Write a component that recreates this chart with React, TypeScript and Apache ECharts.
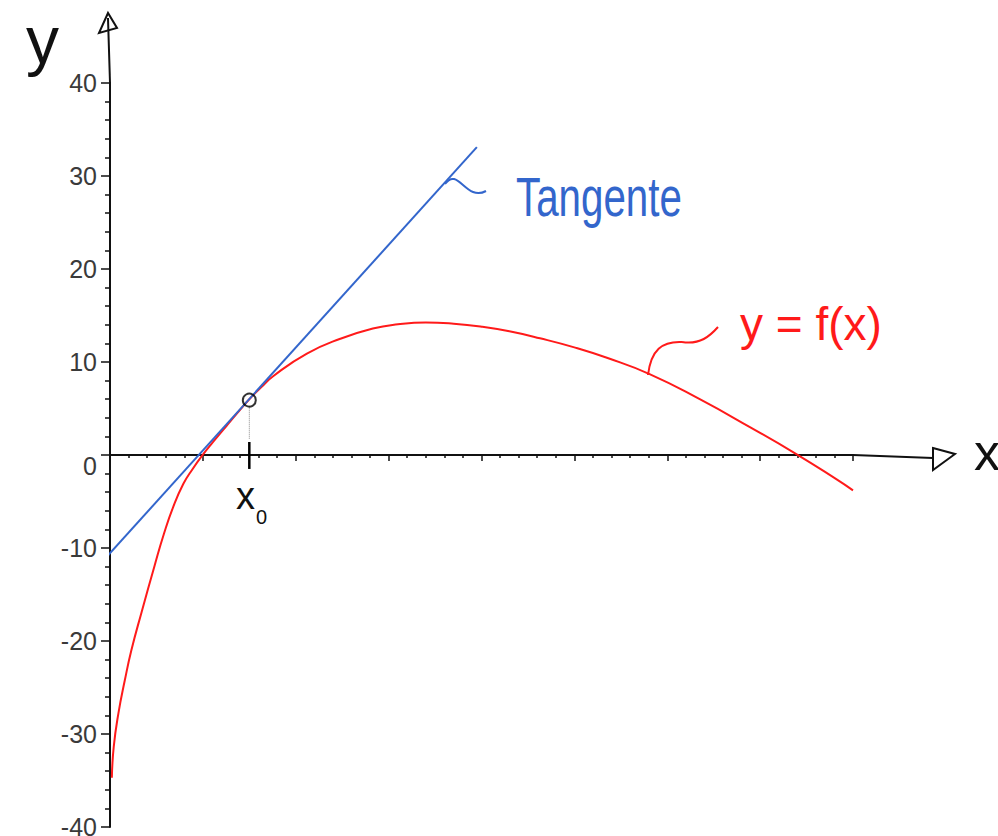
import React, { useEffect, useRef } from "react";
import * as echarts from "echarts";

// Axis ranges and tick step
const xRange = [0, 80];
const yRange = [-40, 40];
const tickStep = 10;

// Red curve y = f(x)
const curveX = [0.2, 0.4, 0.9, 1.6, 2.3, 3.4, 4.8, 5.8, 6.8, 7.9, 8.9, 9.9, 11.1, 12.6, 14.0, 15.0, 16.3, 17.6, 21.2, 24.8, 28.3, 31.0, 34.0, 37.0, 40.0, 43.0, 46.3, 49.9, 53.5, 58.1, 63.5, 68.9, 73.9, 78.2, 80];
const curveY = [-34.7, -31.4, -27.8, -24.2, -21.0, -16.9, -11.9, -8.5, -5.6, -3.1, -1.5, -0.1, 1.4, 3.2, 4.85, 6.0, 7.3, 8.5, 10.9, 12.5, 13.6, 14.05, 14.25, 14.12, 13.8, 13.3, 12.55, 11.6, 10.45, 8.7, 6.0, 3.0, 0.1, -2.6, -3.8];

// Blue tangent line end points
const tangentX = [-10.8, 39.5];
const tangentY = [-22.5, 33.1];

// Tangent point x0
const pointX = [15];
const pointY = [5.9];

const LABEL_FONT = "'Liberation Sans', Arial, sans-serif";
const HAND_FONT = "'Liberation Sans', 'DejaVu Sans', sans-serif";

export default function App() {
  const ref = useRef<HTMLDivElement>(null);

  useEffect(() => {
    document.body.style.margin = "0";
    const chart = echarts.init(ref.current!, undefined, { renderer: "svg" });

    const curveData = curveX.map((x, i) => [x, curveY[i]]);
    const tangentData = tangentX.map((x, i) => [x, tangentY[i]]);
    const pointData = pointX.map((x, i) => [x, pointY[i]]);
    const px = pointX[0];
    const py = pointY[0];

    const option: any = {
      animation: false,
      backgroundColor: "#ffffff",
      grid: {
        left: 110,
        right: 145,
        top: 83,
        bottom: 9,
        containLabel: false,
        outerBoundsMode: "none",
      },
      xAxis: {
        type: "value",
        min: xRange[0],
        max: xRange[1],
        interval: tickStep,
        axisLine: { show: true, onZero: true, lineStyle: { color: "#111", width: 2 } },
        axisTick: { show: true, length: 6, lineStyle: { color: "#111", width: 1.5 } },
        minorTick: { show: true, splitNumber: 5, length: 3, lineStyle: { color: "#111", width: 1.5 } },
        splitLine: { show: false },
        axisLabel: {
          margin: 7,
          fontSize: 25,
          fontFamily: LABEL_FONT,
          color: "#3a3a3a",
          formatter: (v: number) => (v === 0 ? "" : String(v)),
        },
      },
      yAxis: {
        type: "value",
        min: yRange[0],
        max: yRange[1],
        interval: tickStep,
        axisLine: { show: true, onZero: true, lineStyle: { color: "#111", width: 2 } },
        axisTick: { show: true, length: 9, lineStyle: { color: "#111", width: 1.5 } },
        minorTick: { show: true, splitNumber: 5, length: 5, lineStyle: { color: "#111", width: 1.5 } },
        splitLine: { show: false },
        axisLabel: {
          margin: 13,
          fontSize: 25,
          fontFamily: LABEL_FONT,
          color: "#3a3a3a",
          formatter: (v: number) => (v === 0 ? "{z|0}" : String(v)),
          rich: {
            z: { fontSize: 25, fontFamily: LABEL_FONT, color: "#3a3a3a", padding: [22, 0, 0, 0] },
          },
        },
      },
      series: [
        {
          type: "line",
          data: tangentData,
          showSymbol: false,
          clip: false,
          lineStyle: { color: "#3366cc", width: 2 },
          z: 3,
        },
        {
          type: "line",
          data: curveData,
          showSymbol: false,
          smooth: 0.5,
          lineStyle: { color: "#ff1a1a", width: 2 },
          z: 2,
        },
        {
          type: "line",
          data: [[px, py - 0.6], [px, 1.7]],
          showSymbol: false,
          lineStyle: { color: "#888", width: 1, type: "dotted" },
          z: 1,
        },
        {
          type: "line",
          data: [[px, 1.4], [px, -1.5]],
          showSymbol: false,
          lineStyle: { color: "#000", width: 2.5 },
          z: 4,
        },
        {
          type: "scatter",
          data: pointData,
          symbol: "circle",
          symbolSize: 13,
          itemStyle: { color: "rgba(0,0,0,0)", borderColor: "#000", borderWidth: 2 },
          z: 5,
        },
      ],
      graphic: [
        // hand-drawn axis extensions and open arrow heads
        { type: "line", shape: { x1: 110, y1: 83, x2: 108, y2: 18 }, style: { stroke: "#111", lineWidth: 2 } },
        { type: "polygon", shape: { points: [[108, 13], [99, 33], [117, 28]] }, style: { fill: "none", stroke: "#111", lineWidth: 2 } },
        { type: "line", shape: { x1: 853, y1: 455, x2: 933, y2: 458 }, style: { stroke: "#111", lineWidth: 2 } },
        { type: "polygon", shape: { points: [[933, 448], [955, 454], [933, 470]] }, style: { fill: "none", stroke: "#111", lineWidth: 2 } },
        // axis names
        { type: "text", x: 26, y: 40, style: { text: "y", fontSize: 66, fontFamily: HAND_FONT, fill: "#111", align: "left", verticalAlign: "middle" } },
        { type: "text", x: 974, y: 452, style: { text: "x", fontSize: 52, fontFamily: HAND_FONT, fill: "#111", align: "left", verticalAlign: "middle" } },
        // x0
        { type: "text", x: 236, y: 496, style: { text: "x", fontSize: 38, fontFamily: HAND_FONT, fill: "#111", align: "left", verticalAlign: "middle" } },
        { type: "text", x: 256, y: 517, style: { text: "0", fontSize: 20, fontFamily: HAND_FONT, fill: "#111", align: "left", verticalAlign: "middle" } },
        // Tangente label and connector
        { type: "text", x: 516, y: 196, scaleX: 0.72, scaleY: 1, style: { text: "Tangente", fontSize: 56, fontFamily: HAND_FONT, fill: "#3366cc", align: "left", verticalAlign: "middle" } },
        { type: "bezierCurve", shape: { x1: 445, y1: 184, cpx1: 458, cpy1: 166, cpx2: 466, cpy2: 202, x2: 486, y2: 191 }, style: { stroke: "#3366cc", lineWidth: 2, fill: "none" } },
        // y = f(x) label and connector
        { type: "text", x: 740, y: 324, style: { text: "y = f(x)", fontSize: 46, fontFamily: HAND_FONT, fill: "#ff1a1a", align: "left", verticalAlign: "middle" } },
        { type: "bezierCurve", shape: { x1: 648, y1: 375, cpx1: 651, cpy1: 350, cpx2: 662, cpy2: 341, x2: 682, y2: 342 }, style: { stroke: "#ff1a1a", lineWidth: 2, fill: "none" } },
        { type: "bezierCurve", shape: { x1: 682, y1: 342, cpx1: 700, cpy1: 345, cpx2: 710, cpy2: 336, x2: 718, y2: 327 }, style: { stroke: "#ff1a1a", lineWidth: 2, fill: "none" } },
      ],
    };

    chart.setOption(option);
    return () => chart.dispose();
  }, []);

  return (
    <div
      ref={ref}
      style={{ position: "fixed", left: 0, top: 0, width: 998, height: 836, background: "#fff" }}
    />
  );
}
